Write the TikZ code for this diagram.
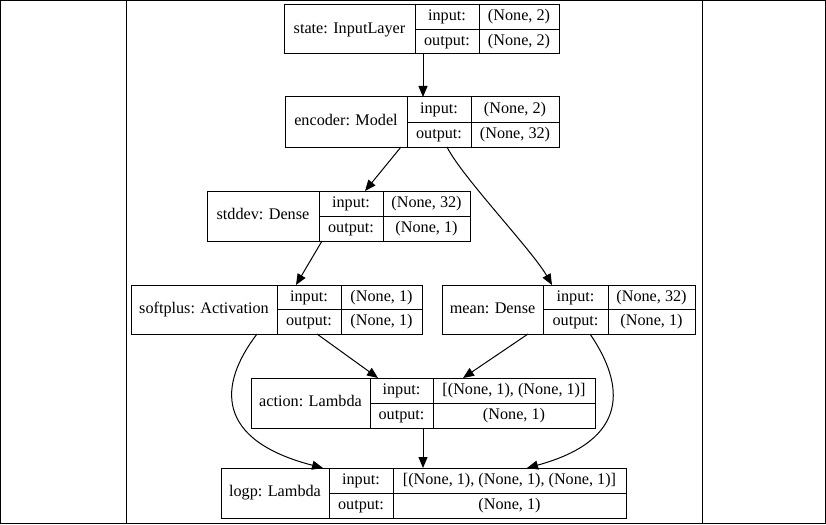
\documentclass[tikz,border=0pt]{standalone}
\usepackage{fontspec}
\setmainfont{Liberation Serif}
\usetikzlibrary{arrows.meta}
\newcommand{\lbox}[8]{%
  \node[layer, minimum width={(#5-#2)*1pt}, minimum height={(#7-#6)*1pt}] (#1) at (#2,#6) {};
  \draw (#3,#6) -- (#3,#7) (#4,#6) -- (#4,#7) (#3,{(#6+#7)/2}) -- (#5,{(#6+#7)/2});
  \node[txt] (#1-label) at ({(#2+#3)/2},{(#6+#7)/2}) {#8};
  \node[txt] (#1-inkey) at ({(#3+#4)/2},{(3*#6+#7)/4}) {input:};
  \node[txt] (#1-outkey) at ({(#3+#4)/2},{(#6+3*#7)/4}) {output:};
  \coordinate (#1-in) at ({(#4+#5)/2},{(3*#6+#7)/4});
  \coordinate (#1-out) at ({(#4+#5)/2},{(#6+3*#7)/4});
}
\begin{document}
\begin{tikzpicture}[x=1pt,y=-1pt, line width=1pt,
  layer/.style={draw, inner sep=0pt, outer sep=0pt, anchor=north west},
  txt/.style={inner sep=0pt, text height=11pt, text depth=3.5pt, font=\fontsize{16.2}{19}\selectfont},
  edge/.style={-{Triangle[length=11pt,width=9pt]}, line width=1pt}]
\useasboundingbox (0,0) rectangle (826,524);
% frame
\draw (0.5,0.5) rectangle (825.5,523.5);
\draw (126,0) -- (126,524);
\draw (702,0) -- (702,524);
% layers
\lbox{state}{284}{415}{479}{559}{5}{54}{state: InputLayer}
\node[txt] (state-inval) at (state-in) {(None, 2)};
\node[txt] (state-outval) at (state-out) {(None, 2)};
\lbox{encoder}{285}{407}{471}{559}{97}{147}{encoder: Model}
\node[txt] (encoder-inval) at (encoder-in) {(None, 2)};
\node[txt] (encoder-outval) at (encoder-out) {(None, 32)};
\lbox{stddev}{207}{319}{383}{470}{191}{241}{stddev: Dense}
\node[txt] (stddev-inval) at (stddev-in) {(None, 32)};
\node[txt] (stddev-outval) at (stddev-out) {(None, 1)};
\lbox{softplus}{131}{277}{341}{422}{285}{334}{softplus: Activation}
\node[txt] (softplus-inval) at (softplus-in) {(None, 1)};
\node[txt] (softplus-outval) at (softplus-out) {(None, 1)};
\lbox{mean}{442}{543}{608}{695}{285}{334}{mean: Dense}
\node[txt] (mean-inval) at (mean-in) {(None, 32)};
\node[txt] (mean-outval) at (mean-out) {(None, 1)};
\lbox{action}{251}{370}{433}{595}{378}{428}{action: Lambda}
\node[txt] (action-inval) at (action-in) {[(None, 1), (None, 1)]};
\node[txt] (action-outval) at (action-out) {(None, 1)};
\lbox{logp}{221}{329}{393}{626}{468}{518}{logp: Lambda}
\node[txt] (logp-inval) at (logp-in) {[(None, 1), (None, 1), (None, 1)]};
\node[txt] (logp-outval) at (logp-out) {(None, 1)};
% connectors
\draw[edge] ([xshift=139pt]state.south west) -- ([xshift=138pt]encoder.north west);
\draw[edge] ([xshift=116pt]encoder.south west) -- ([xshift=158pt]stddev.north west);
\draw[edge] ([xshift=162pt]encoder.south west) .. controls +(15,30) and +(-20,-35) .. ([xshift=110pt]mean.north west);
\draw[edge] ([xshift=115pt]stddev.south west) -- ([xshift=165pt]softplus.north west);
\draw[edge] ([xshift=186pt]softplus.south west) -- ([xshift=127pt]action.north west);
\draw[edge] ([xshift=86pt]mean.south west) -- ([xshift=212pt]action.north west);
\draw[edge] ([xshift=126pt]softplus.south west) .. controls +(-39,51) and +(-108,-28) .. ([xshift=102pt]logp.north west);
\draw[edge] ([xshift=148pt]mean.south west) .. controls +(35,51) and +(103,-28) .. ([xshift=306pt]logp.north west);
\draw[edge] ([xshift=172pt]action.south west) -- ([xshift=202pt]logp.north west);
\end{tikzpicture}
\end{document}
